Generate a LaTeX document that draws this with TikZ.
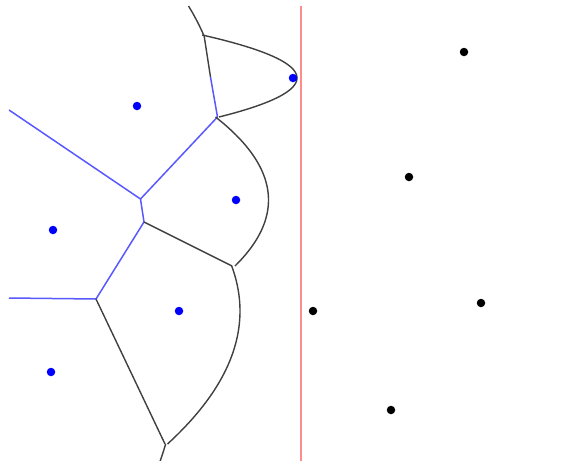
\documentclass[tikz,border=0pt]{standalone}
\begin{document}
\begin{tikzpicture}[x=1pt,y=-1pt,
  site/.style={circle,fill=#1,inner sep=0pt,minimum size=8.5pt},
  doneedge/.style={draw=blue!65!white,line width=1.5pt},
  liveedge/.style={draw=black!75,line width=1.4pt},
  sweep/.style={draw=red!45!white,line width=2.8pt}]
\useasboundingbox[fill=white] (0,0) rectangle (571,461);
% sweep line
\coordinate (st) at (301,6);
\coordinate (sb) at (301,461);
\draw[sweep] (st) -- (sb);
% vertices
\coordinate (v1) at (140.5,199);
\coordinate (v2) at (217.5,117);
\coordinate (v3) at (144,222);
\coordinate (v4) at (96,299);
\coordinate (v5) at (232,266);
\coordinate (v6) at (165,444);
\coordinate (v7) at (204,35);
\coordinate (m1) at (210.5,77);
\coordinate (e1) at (9,110);
\coordinate (e2) at (9,298);
% finished edges
\draw[doneedge] (e1) -- (v1) -- (v2);
\draw[doneedge] (v1) -- (v3) -- (v4) -- (e2);
\draw[doneedge] (m1) -- (v2);
% edges being traced
\draw[liveedge] (v7) -- (m1);
\draw[liveedge] (v3) -- (v5);
\draw[liveedge] (v4) -- (v6);
% beach line arcs
\draw[liveedge] plot[domain=6:35,samples=20] ({219-((\x-106)/10)^2/3.28},\x);
\draw[liveedge] plot[domain=35:117,samples=60] ({297-((\x-78)/10)^2/0.195},\x);
\draw[liveedge] plot[domain=117:266,samples=60] ({268.5-((\x-200)/10)^2/1.30},\x);
\draw[liveedge] plot[domain=266:444,samples=60] ({240-((\x-311)/10)^2/2.44},\x);
\draw[liveedge] plot[domain=444:461,samples=10] ({176-((\x-372)/10)^2/5.00},\x);
% processed sites
\node[site=blue] (a) at (137,106) {};
\node[site=blue] (b) at (293,78) {};
\node[site=blue] (c) at (236,200) {};
\node[site=blue] (d) at (53,230) {};
\node[site=blue] (e) at (179,311) {};
\node[site=blue] (f) at (51,372) {};
% pending sites
\node[site=black] (g) at (464,52) {};
\node[site=black] (h) at (409,177) {};
\node[site=black] (i) at (313,311) {};
\node[site=black] (j) at (481,303) {};
\node[site=black] (k) at (391,410) {};
\end{tikzpicture}
\end{document}
